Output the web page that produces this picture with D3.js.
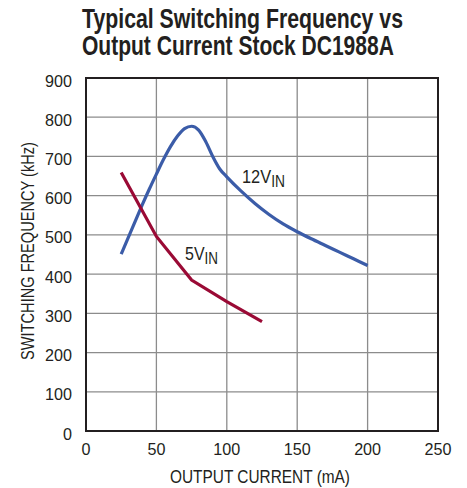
<!DOCTYPE html>
<html>
<head>
<meta charset="utf-8">
<script src="https://cdn.jsdelivr.net/npm/d3@7/dist/d3.min.js"></script>
<style>
  body { margin: 0; background: #fff; }
  text { font-family: "Liberation Sans", Arial, sans-serif; fill: #231f20; }
</style>
</head>
<body>
<svg id="chart" width="467" height="488"></svg>
<script>
// data
const xTicks = [0, 50, 100, 150, 200, 250];
const yTicks = [0, 100, 200, 300, 400, 500, 600, 700, 800, 900];

// 12V input curve (mA, kHz)
const current12 = [25, 30, 35, 40, 45, 50, 55, 60, 65, 70, 75, 80, 85, 90, 95, 100, 110, 120, 130, 140, 150, 160, 170, 180, 190, 200];
const freq12 =    [451, 493, 535, 577, 617, 655, 692, 725, 752, 771, 777, 767, 738, 700, 668, 648, 612, 580, 552, 528, 508, 490, 473, 456, 439, 422];

// 5V input curve
const current5 = [25, 50, 75, 100, 125];
const freq5 =    [659, 496, 385, 330, 279];

const svg = d3.select("#chart");
const margin = { left: 86, right: 29, top: 78, bottom: 57 };
const width = 467 - margin.left - margin.right;
const height = 488 - margin.top - margin.bottom;

const g = svg.append("g").attr("transform", `translate(${margin.left},${margin.top})`);

const x = d3.scaleLinear().domain([0, 250]).range([0, width]);
const y = d3.scaleLinear().domain([0, 900]).range([height, 0]);

// the reference uses a condensed face, so squeeze text horizontally to a target width
function placeText(parent, px, py, str, size, opts = {}) {
    const t = parent.append("text")
        .attr("font-size", size)
        .attr("text-anchor", opts.anchor || "start")
        .attr("font-weight", opts.bold ? "bold" : null)
        .attr("dy", opts.dy || null)
        .text(str);
    let s = opts.scale || 1;
    if (opts.fit) s = opts.fit / t.node().getComputedTextLength();
    const rot = opts.rotate ? ` rotate(${opts.rotate})` : "";
    t.attr("transform", `translate(${px},${py})${rot} scale(${s},1)`);
    return t;
}

// title
placeText(svg, 82, 27.5, "Typical Switching Frequency vs", 28, { bold: true, fit: 321 });
placeText(svg, 82, 55, "Output Current Stock DC1988A", 28, { bold: true, fit: 312 });

// grid
g.selectAll(".vgrid").data(xTicks.slice(1, -1)).enter().append("line")
    .attr("x1", d => x(d)).attr("x2", d => x(d))
    .attr("y1", 0).attr("y2", height)
    .attr("stroke", "#8c8c8c").attr("stroke-width", 1.3);
g.selectAll(".hgrid").data(yTicks.slice(1, -1)).enter().append("line")
    .attr("x1", 0).attr("x2", width)
    .attr("y1", d => y(d)).attr("y2", d => y(d))
    .attr("stroke", "#8c8c8c").attr("stroke-width", 1.3);

// frame
g.append("rect").attr("width", width).attr("height", height)
    .attr("fill", "none").attr("stroke", "#231f20").attr("stroke-width", 2);

// tick labels
const tickFmt = d3.format("d");
xTicks.forEach(d => placeText(g, x(d), height + 24, tickFmt(d), 17, { anchor: "middle", scale: 0.95 }));
yTicks.forEach(d => placeText(g, -14, y(d), tickFmt(d), 17, { anchor: "end", scale: 0.95, dy: "0.5em" }));

// axis titles
placeText(svg, margin.left + width / 2 - 2, 483, "OUTPUT CURRENT (mA)", 18, { anchor: "middle", fit: 180 });
placeText(svg, 34, 251, "SWITCHING FREQUENCY (kHz)", 18, { anchor: "middle", fit: 218, rotate: -90 });

// curves
const line = d3.line().x(d => x(d[0])).y(d => y(d[1]));

g.append("path")
    .datum(d3.zip(current12, freq12))
    .attr("d", line.curve(d3.curveMonotoneX))
    .attr("fill", "none").attr("stroke", "#3b5ca8").attr("stroke-width", 3.2);

g.append("path")
    .datum(d3.zip(current5, freq5))
    .attr("d", line.curve(d3.curveLinear))
    .attr("fill", "none").attr("stroke", "#9a0a35").attr("stroke-width", 3.2);

// curve labels
function vinLabel(px, py, main, w) {
    const t = svg.append("text").attr("font-size", 19);
    t.append("tspan").text(main);
    t.append("tspan").attr("font-size", 16).attr("dy", 4).text("IN");
    const s = w / t.node().getComputedTextLength();
    t.attr("transform", `translate(${px},${py}) scale(${s},1)`);
}
vinLabel(242, 183, "12V", 43);
vinLabel(185, 260, "5V", 33);
</script>
</body>
</html>
